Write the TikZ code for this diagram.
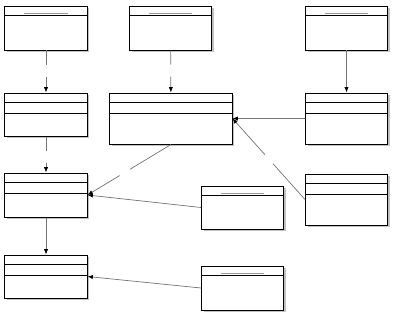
\documentclass[tikz,border=0pt]{standalone}
\usepackage{tikz}
\usetikzlibrary{arrows.meta, shadows}

\begin{document}
\begin{tikzpicture}[
    x=0.025cm, y=-0.025cm,
    cls/.style={rectangle, draw=black, line width=0.7pt, fill=white, minimum width=2.05cm, minimum height=1.1cm, inner sep=0pt,
        drop shadow={shadow xshift=0.06cm, shadow yshift=-0.06cm, fill=black!30, opacity=0.8}},
    wide/.style={minimum width=3.05cm},
    tall/.style={minimum height=1.275cm},
    arrow/.style={-{Latex[length=3.8pt, width=3pt, color=black]}, draw=black!55, line width=0.5pt},
    depend/.style={arrow, dash pattern=on 0.35cm off 0.3cm},
    realize/.style={arrow, dash pattern=on 1.2cm off 0.3cm}
]
    \useasboundingbox (0,0) rectangle (400,322);

    % top row
    \node[cls] (topLeft) at (46,28) {};
    \node[cls] (topMid) at (170.5,28) {};
    \node[cls] (topRight) at (346.5,28) {};

    % middle row
    \node[cls, minimum height=1.075cm] (midLeft) at (46,114.5) {};
    \node[cls, wide, tall] (midMid) at (171,118.5) {};
    \node[cls, tall] (midRight) at (346.5,118.5) {};

    % lower rows
    \node[cls] (lowLeft) at (46,195) {};
    \node[cls, tall] (lowRight) at (346.5,199.5) {};
    \node[cls, minimum height=1.075cm] (lowMid) at (242.5,207.5) {};
    \node[cls, minimum height=1.075cm] (baseLeft) at (46,276.5) {};
    \node[cls] (baseMid) at (242.5,288) {};

    % compartments
    \foreach \n in {midLeft, midMid, midRight, lowLeft, lowRight, baseLeft} {
        \draw[line width=0.7pt] ([yshift=-0.25cm]\n.north west) -- ([yshift=-0.25cm]\n.north east);
        \draw[line width=0.7pt] ([yshift=-0.525cm]\n.north west) -- ([yshift=-0.525cm]\n.north east);
    }
    \foreach \n in {topLeft, topMid, topRight, lowMid, baseMid} {
        \draw[line width=0.7pt] ([yshift=-0.25cm]\n.north west) -- ([yshift=-0.25cm]\n.north east);
        \draw[black!40, line width=0.5pt] ([yshift=-0.19cm, xshift=-0.54cm]\n.north) -- ([yshift=-0.19cm, xshift=0.54cm]\n.north);
    }

    % connectors
    \draw[depend] (topLeft) -- (midLeft);
    \draw[depend] (topMid) -- (midMid);
    \draw[arrow] (topRight) -- (midRight);
    \draw[arrow] (midRight.west) -- (midMid.east);
    \draw[realize] (lowRight.west) -- (midMid.east);
    \draw[depend] (midLeft) -- (lowLeft);
    \draw[realize] (midMid.south) -- (lowLeft.east);
    \draw[arrow] (lowMid.west) -- (lowLeft.east);
    \draw[arrow] (lowLeft) -- (baseLeft);
    \draw[arrow] (baseMid.west) -- (baseLeft.east);

\end{tikzpicture}
\end{document}
